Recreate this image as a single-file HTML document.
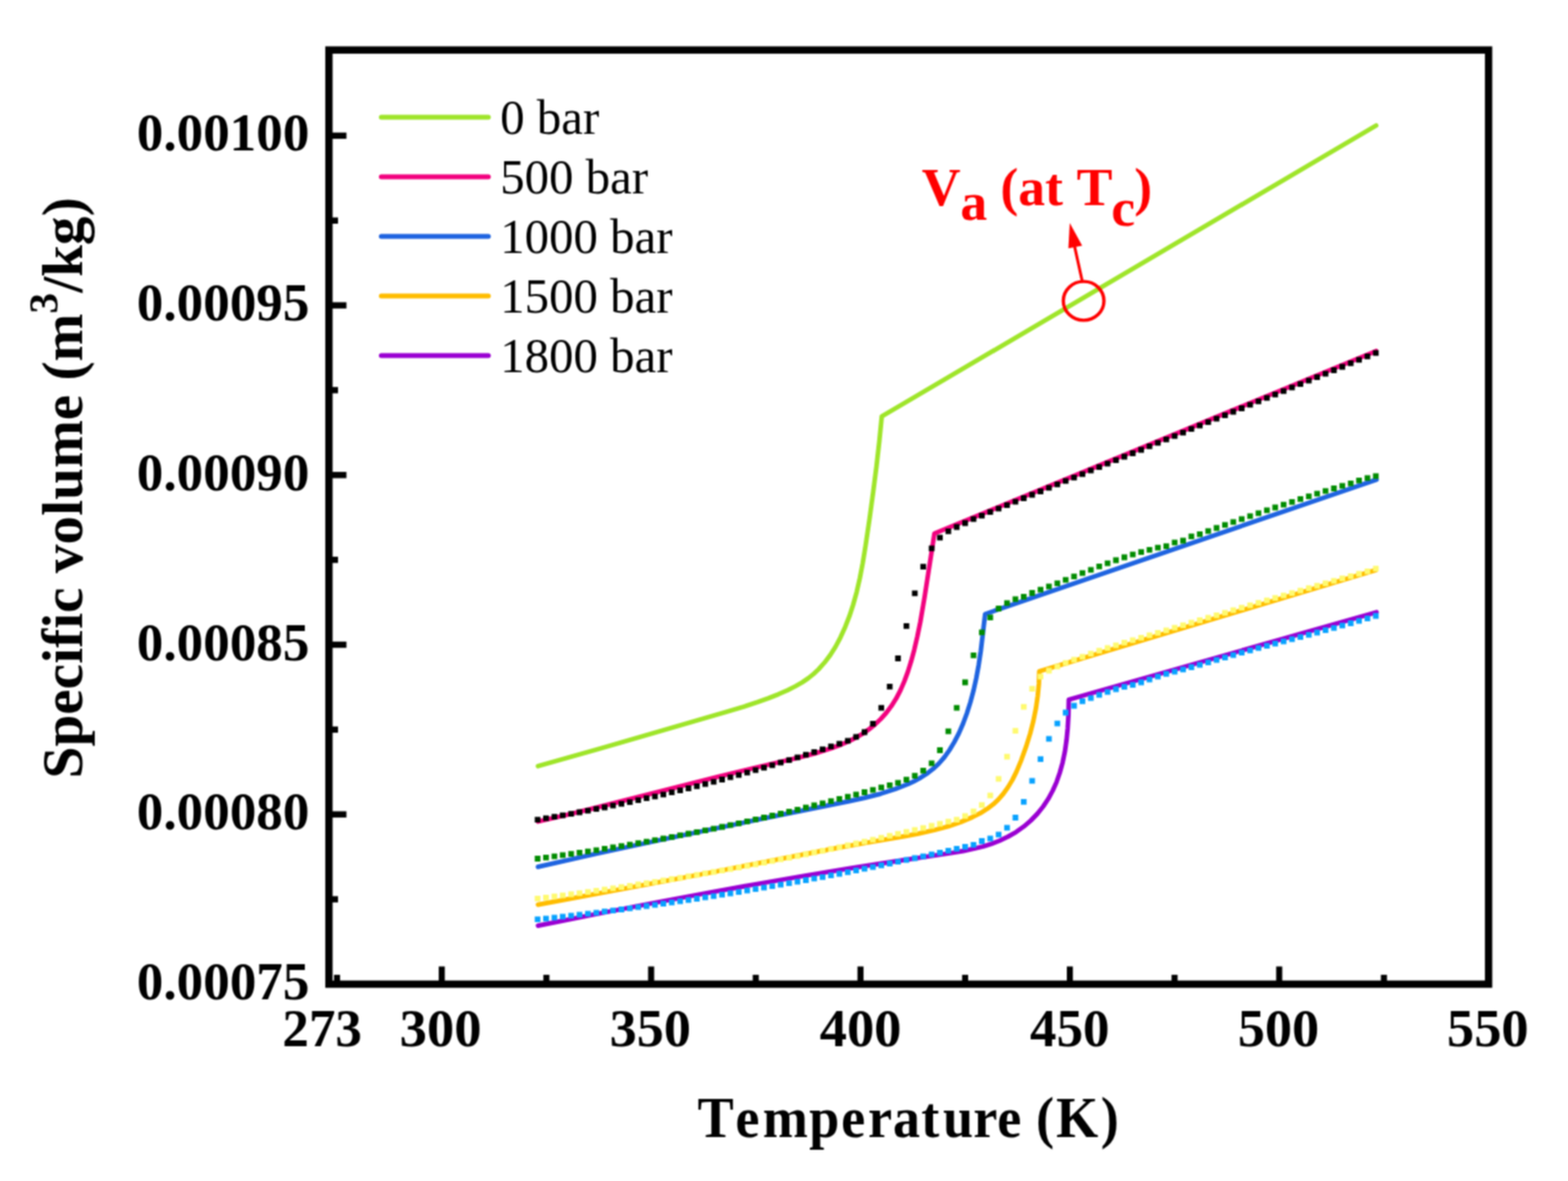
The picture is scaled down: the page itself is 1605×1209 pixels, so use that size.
<!DOCTYPE html>
<html><head><meta charset="utf-8"><title>Specific volume vs Temperature</title>
<style>html,body{margin:0;padding:0;background:#fff;}svg{display:block;}</style></head>
<body><svg width="1605" height="1209" viewBox="0 0 1605 1209">
<defs><filter id="soft" filterUnits="userSpaceOnUse" x="0" y="0" width="1605" height="1209" color-interpolation-filters="sRGB"><feConvolveMatrix order="3" kernelMatrix="1 2 1 2 4 2 1 2 1" divisor="16" edgeMode="duplicate"/></filter></defs>
<g filter="url(#soft)">
<rect width="1605" height="1209" fill="#fff"/>
<polyline points="550.7,784.3 610.9,767.3 743.5,728.8 761.2,723.5 775.4,718.8 786.6,714.8 796.8,710.7 806.1,706.6 814.2,702.5 821.2,698.5 827.4,694.3 832.7,690.0 837.9,685.1 844.0,678.3 849.9,670.5 855.3,662.0 860.4,652.3 865.2,641.7 869.5,630.7 873.3,619.0 876.9,606.1 880.1,592.0 883.1,576.4 886.0,558.6 890.0,531.5 893.8,503.6 897.2,477.1 900.1,451.4 902.6,426.3 1408.6,128.5" fill="none" stroke="#9fe52a" stroke-width="4.7" stroke-linejoin="round" stroke-linecap="round"/>
<polyline points="550.7,841.0 577.8,834.7 608.0,827.4 735.5,795.0 771.7,786.2 816.7,775.7 833.6,771.4 850.9,766.0 858.4,763.3 865.3,760.4 871.8,757.4 877.6,754.3 883.2,751.0 888.5,747.3 895.4,741.9 901.7,735.9 907.3,729.7 912.5,722.7 917.3,715.1 921.7,706.6 925.7,697.4 929.4,687.4 932.7,676.8 935.8,665.3 939.0,651.5 942.0,637.0 946.5,610.7 956.5,546.2 1408.6,359.3" fill="none" stroke="#f2027f" stroke-width="4.7" stroke-linejoin="round" stroke-linecap="round"/>
<polyline points="550.7,887.4 610.2,874.0 678.9,859.3 794.8,835.1 868.3,820.4 884.5,816.9 901.4,812.6 916.3,807.8 929.6,802.6 935.5,799.8 940.9,797.0 948.3,792.3 955.0,787.2 960.9,781.7 966.5,775.4 971.8,768.0 976.7,759.9 981.4,750.9 985.8,740.8 989.7,730.2 993.3,718.9 996.5,706.9 999.3,694.2 1001.7,681.2 1003.9,666.6 1008.4,628.6 1409.0,491.0" fill="none" stroke="#1f64e0" stroke-width="4.7" stroke-linejoin="round" stroke-linecap="round"/>
<polyline points="550.7,926.1 728.8,893.0 857.6,867.9 886.9,862.7 925.7,856.1 940.2,853.4 956.4,849.8 970.6,845.9 983.6,841.5 995.4,836.5 1003.5,832.4 1010.4,828.1 1016.6,823.4 1021.9,818.5 1027.0,812.6 1031.8,805.9 1036.3,798.4 1040.5,789.9 1045.3,778.3 1050.3,764.4 1054.5,750.9 1057.8,737.9 1060.4,725.0 1062.2,712.3 1063.4,699.9 1063.8,687.3 1408.6,583.5" fill="none" stroke="#ffbd00" stroke-width="4.7" stroke-linejoin="round" stroke-linecap="round"/>
<polyline points="550.7,947.6 610.3,935.7 667.0,924.7 721.8,914.5 774.8,905.0 823.9,896.5 871.9,888.6 920.4,881.1 973.6,873.2 986.2,871.1 997.0,868.8 1006.5,866.5 1015.1,863.7 1023.2,860.6 1032.0,856.4 1040.2,851.7 1047.9,846.2 1055.1,840.0 1061.9,833.0 1067.8,825.6 1073.0,817.8 1077.5,809.5 1081.5,800.6 1084.8,791.0 1087.7,780.6 1090.0,769.6 1091.7,757.7 1092.9,745.2 1093.7,731.5 1094.0,716.2 1409.0,626.7" fill="none" stroke="#9a00d2" stroke-width="4.7" stroke-linejoin="round" stroke-linecap="round"/>
<path d="M547.4 836.2h5.8v5.8h-5.8zM556.0 834.7h5.8v5.8h-5.8zM564.6 833.3h5.8v5.8h-5.8zM573.1 831.8h5.8v5.8h-5.8zM581.7 830.2h5.8v5.8h-5.8zM590.3 828.6h5.8v5.8h-5.8zM598.9 827.0h5.8v5.8h-5.8zM607.5 825.3h5.8v5.8h-5.8zM616.0 823.6h5.8v5.8h-5.8zM624.6 821.8h5.8v5.8h-5.8zM633.2 820.0h5.8v5.8h-5.8zM641.8 818.2h5.8v5.8h-5.8zM650.4 816.3h5.8v5.8h-5.8zM658.9 814.3h5.8v5.8h-5.8zM667.5 812.4h5.8v5.8h-5.8zM676.1 810.4h5.8v5.8h-5.8zM684.7 808.3h5.8v5.8h-5.8zM693.3 806.2h5.8v5.8h-5.8zM701.8 804.1h5.8v5.8h-5.8zM710.4 801.9h5.8v5.8h-5.8zM719.0 799.7h5.8v5.8h-5.8zM727.6 797.4h5.8v5.8h-5.8zM736.2 795.1h5.8v5.8h-5.8zM744.7 792.8h5.8v5.8h-5.8zM753.3 790.4h5.8v5.8h-5.8zM761.9 787.9h5.8v5.8h-5.8zM770.5 785.5h5.8v5.8h-5.8zM779.1 782.9h5.8v5.8h-5.8zM787.6 780.4h5.8v5.8h-5.8zM796.2 777.8h5.8v5.8h-5.8zM804.8 775.2h5.8v5.8h-5.8zM813.4 772.5h5.8v5.8h-5.8zM822.0 769.7h5.8v5.8h-5.8zM830.5 767.0h5.8v5.8h-5.8zM839.1 764.2h5.8v5.8h-5.8zM847.7 761.3h5.8v5.8h-5.8zM856.3 758.4h5.8v5.8h-5.8zM864.9 755.5h5.8v5.8h-5.8zM873.4 751.4h5.8v5.8h-5.8zM882.0 746.6h5.8v5.8h-5.8zM890.6 738.0h5.8v5.8h-5.8zM899.2 721.7h5.8v5.8h-5.8zM907.8 699.9h5.8v5.8h-5.8zM916.3 671.1h5.8v5.8h-5.8zM924.9 637.9h5.8v5.8h-5.8zM933.5 604.5h5.8v5.8h-5.8zM942.1 577.3h5.8v5.8h-5.8zM950.7 558.4h5.8v5.8h-5.8zM959.2 547.5h5.8v5.8h-5.8zM967.8 540.9h5.8v5.8h-5.8zM976.4 536.6h5.8v5.8h-5.8zM985.0 532.6h5.8v5.8h-5.8zM993.6 528.4h5.8v5.8h-5.8zM1002.1 524.9h5.8v5.8h-5.8zM1010.7 521.3h5.8v5.8h-5.8zM1019.3 517.8h5.8v5.8h-5.8zM1027.9 514.2h5.8v5.8h-5.8zM1036.5 510.7h5.8v5.8h-5.8zM1045.0 507.1h5.8v5.8h-5.8zM1053.6 503.6h5.8v5.8h-5.8zM1062.2 500.1h5.8v5.8h-5.8zM1070.8 496.5h5.8v5.8h-5.8zM1079.4 493.0h5.8v5.8h-5.8zM1087.9 489.4h5.8v5.8h-5.8zM1096.5 485.9h5.8v5.8h-5.8zM1105.1 482.4h5.8v5.8h-5.8zM1113.7 478.8h5.8v5.8h-5.8zM1122.3 475.3h5.8v5.8h-5.8zM1130.8 471.7h5.8v5.8h-5.8zM1139.4 468.2h5.8v5.8h-5.8zM1148.0 464.6h5.8v5.8h-5.8zM1156.6 461.1h5.8v5.8h-5.8zM1165.2 457.6h5.8v5.8h-5.8zM1173.7 454.0h5.8v5.8h-5.8zM1182.3 450.5h5.8v5.8h-5.8zM1190.9 446.9h5.8v5.8h-5.8zM1199.5 443.4h5.8v5.8h-5.8zM1208.1 439.9h5.8v5.8h-5.8zM1216.6 436.3h5.8v5.8h-5.8zM1225.2 432.8h5.8v5.8h-5.8zM1233.8 429.2h5.8v5.8h-5.8zM1242.4 425.7h5.8v5.8h-5.8zM1251.0 422.2h5.8v5.8h-5.8zM1259.5 418.6h5.8v5.8h-5.8zM1268.1 415.1h5.8v5.8h-5.8zM1276.7 411.5h5.8v5.8h-5.8zM1285.3 408.0h5.8v5.8h-5.8zM1293.9 404.4h5.8v5.8h-5.8zM1302.4 400.9h5.8v5.8h-5.8zM1311.0 397.4h5.8v5.8h-5.8zM1319.6 393.8h5.8v5.8h-5.8zM1328.2 390.3h5.8v5.8h-5.8zM1336.8 386.7h5.8v5.8h-5.8zM1345.3 383.2h5.8v5.8h-5.8zM1353.9 379.7h5.8v5.8h-5.8zM1362.5 376.1h5.8v5.8h-5.8zM1371.1 372.6h5.8v5.8h-5.8zM1379.7 369.0h5.8v5.8h-5.8zM1388.2 365.5h5.8v5.8h-5.8zM1396.8 361.9h5.8v5.8h-5.8zM1405.4 358.4h5.8v5.8h-5.8z" fill="#000000"/>
<path d="M547.4 876.1h5.8v5.8h-5.8zM556.0 874.9h5.8v5.8h-5.8zM564.6 873.8h5.8v5.8h-5.8zM573.1 872.5h5.8v5.8h-5.8zM581.7 871.3h5.8v5.8h-5.8zM590.3 870.0h5.8v5.8h-5.8zM598.9 868.7h5.8v5.8h-5.8zM607.5 867.4h5.8v5.8h-5.8zM616.0 866.0h5.8v5.8h-5.8zM624.6 864.6h5.8v5.8h-5.8zM633.2 863.2h5.8v5.8h-5.8zM641.8 861.7h5.8v5.8h-5.8zM650.4 860.2h5.8v5.8h-5.8zM658.9 858.7h5.8v5.8h-5.8zM667.5 857.2h5.8v5.8h-5.8zM676.1 855.6h5.8v5.8h-5.8zM684.7 854.0h5.8v5.8h-5.8zM693.3 852.3h5.8v5.8h-5.8zM701.8 850.6h5.8v5.8h-5.8zM710.4 848.9h5.8v5.8h-5.8zM719.0 847.2h5.8v5.8h-5.8zM727.6 845.4h5.8v5.8h-5.8zM736.2 843.6h5.8v5.8h-5.8zM744.7 841.7h5.8v5.8h-5.8zM753.3 839.9h5.8v5.8h-5.8zM761.9 838.0h5.8v5.8h-5.8zM770.5 836.0h5.8v5.8h-5.8zM779.1 834.1h5.8v5.8h-5.8zM787.6 832.1h5.8v5.8h-5.8zM796.2 830.1h5.8v5.8h-5.8zM804.8 828.0h5.8v5.8h-5.8zM813.4 825.9h5.8v5.8h-5.8zM822.0 823.8h5.8v5.8h-5.8zM830.5 821.6h5.8v5.8h-5.8zM839.1 819.5h5.8v5.8h-5.8zM847.7 817.2h5.8v5.8h-5.8zM856.3 815.0h5.8v5.8h-5.8zM864.9 812.7h5.8v5.8h-5.8zM873.4 810.4h5.8v5.8h-5.8zM882.0 808.1h5.8v5.8h-5.8zM890.6 805.7h5.8v5.8h-5.8zM899.2 803.3h5.8v5.8h-5.8zM907.8 800.9h5.8v5.8h-5.8zM916.3 798.4h5.8v5.8h-5.8zM924.9 795.2h5.8v5.8h-5.8zM933.5 791.2h5.8v5.8h-5.8zM942.1 786.0h5.8v5.8h-5.8zM950.7 778.5h5.8v5.8h-5.8zM959.2 765.1h5.8v5.8h-5.8zM967.8 745.7h5.8v5.8h-5.8zM976.4 721.7h5.8v5.8h-5.8zM985.0 695.6h5.8v5.8h-5.8zM993.6 667.9h5.8v5.8h-5.8zM1002.1 644.4h5.8v5.8h-5.8zM1010.7 629.3h5.8v5.8h-5.8zM1019.3 620.1h5.8v5.8h-5.8zM1027.9 614.5h5.8v5.8h-5.8zM1036.5 610.5h5.8v5.8h-5.8zM1045.0 607.9h5.8v5.8h-5.8zM1053.6 604.1h5.8v5.8h-5.8zM1062.2 600.8h5.8v5.8h-5.8zM1070.8 597.5h5.8v5.8h-5.8zM1079.4 594.2h5.8v5.8h-5.8zM1087.9 590.7h5.8v5.8h-5.8zM1096.5 587.3h5.8v5.8h-5.8zM1105.1 583.8h5.8v5.8h-5.8zM1113.7 580.4h5.8v5.8h-5.8zM1122.3 577.0h5.8v5.8h-5.8zM1130.8 573.8h5.8v5.8h-5.8zM1139.4 570.6h5.8v5.8h-5.8zM1148.0 567.6h5.8v5.8h-5.8zM1156.6 564.8h5.8v5.8h-5.8zM1165.2 562.2h5.8v5.8h-5.8zM1173.7 559.9h5.8v5.8h-5.8zM1182.3 557.8h5.8v5.8h-5.8zM1190.9 556.2h5.8v5.8h-5.8zM1199.5 552.5h5.8v5.8h-5.8zM1208.1 550.6h5.8v5.8h-5.8zM1216.6 546.3h5.8v5.8h-5.8zM1225.2 544.0h5.8v5.8h-5.8zM1233.8 540.7h5.8v5.8h-5.8zM1242.4 537.6h5.8v5.8h-5.8zM1251.0 534.5h5.8v5.8h-5.8zM1259.5 531.4h5.8v5.8h-5.8zM1268.1 528.4h5.8v5.8h-5.8zM1276.7 525.4h5.8v5.8h-5.8zM1285.3 522.4h5.8v5.8h-5.8zM1293.9 519.5h5.8v5.8h-5.8zM1302.4 516.6h5.8v5.8h-5.8zM1311.0 513.7h5.8v5.8h-5.8zM1319.6 510.9h5.8v5.8h-5.8zM1328.2 508.0h5.8v5.8h-5.8zM1336.8 505.3h5.8v5.8h-5.8zM1345.3 502.5h5.8v5.8h-5.8zM1353.9 499.8h5.8v5.8h-5.8zM1362.5 497.1h5.8v5.8h-5.8zM1371.1 494.5h5.8v5.8h-5.8zM1379.7 492.0h5.8v5.8h-5.8zM1388.2 488.9h5.8v5.8h-5.8zM1396.8 486.4h5.8v5.8h-5.8zM1405.4 484.4h5.8v5.8h-5.8z" fill="#008c00"/>
<path d="M547.4 917.0h5.8v5.8h-5.8zM556.0 915.9h5.8v5.8h-5.8zM564.6 914.8h5.8v5.8h-5.8zM573.1 913.7h5.8v5.8h-5.8zM581.7 912.6h5.8v5.8h-5.8zM590.3 911.4h5.8v5.8h-5.8zM598.9 910.2h5.8v5.8h-5.8zM607.5 909.0h5.8v5.8h-5.8zM616.0 907.8h5.8v5.8h-5.8zM624.6 906.5h5.8v5.8h-5.8zM633.2 905.2h5.8v5.8h-5.8zM641.8 903.9h5.8v5.8h-5.8zM650.4 902.6h5.8v5.8h-5.8zM658.9 901.3h5.8v5.8h-5.8zM667.5 899.9h5.8v5.8h-5.8zM676.1 898.5h5.8v5.8h-5.8zM684.7 897.1h5.8v5.8h-5.8zM693.3 895.7h5.8v5.8h-5.8zM701.8 894.3h5.8v5.8h-5.8zM710.4 892.8h5.8v5.8h-5.8zM719.0 891.3h5.8v5.8h-5.8zM727.6 889.8h5.8v5.8h-5.8zM736.2 888.2h5.8v5.8h-5.8zM744.7 886.7h5.8v5.8h-5.8zM753.3 885.1h5.8v5.8h-5.8zM761.9 883.5h5.8v5.8h-5.8zM770.5 881.9h5.8v5.8h-5.8zM779.1 880.2h5.8v5.8h-5.8zM787.6 878.5h5.8v5.8h-5.8zM796.2 876.8h5.8v5.8h-5.8zM804.8 875.1h5.8v5.8h-5.8zM813.4 873.4h5.8v5.8h-5.8zM822.0 871.6h5.8v5.8h-5.8zM830.5 869.8h5.8v5.8h-5.8zM839.1 868.0h5.8v5.8h-5.8zM847.7 866.2h5.8v5.8h-5.8zM856.3 864.4h5.8v5.8h-5.8zM864.9 862.5h5.8v5.8h-5.8zM873.4 860.6h5.8v5.8h-5.8zM882.0 858.7h5.8v5.8h-5.8zM890.6 856.7h5.8v5.8h-5.8zM899.2 854.8h5.8v5.8h-5.8zM907.8 852.8h5.8v5.8h-5.8zM916.3 850.8h5.8v5.8h-5.8zM924.9 848.8h5.8v5.8h-5.8zM933.5 846.7h5.8v5.8h-5.8zM942.1 844.7h5.8v5.8h-5.8zM950.7 842.6h5.8v5.8h-5.8zM959.2 840.5h5.8v5.8h-5.8zM967.8 838.3h5.8v5.8h-5.8zM976.4 836.2h5.8v5.8h-5.8zM985.0 832.5h5.8v5.8h-5.8zM993.6 827.7h5.8v5.8h-5.8zM1002.1 821.3h5.8v5.8h-5.8zM1010.7 811.4h5.8v5.8h-5.8zM1019.3 794.4h5.8v5.8h-5.8zM1027.9 771.7h5.8v5.8h-5.8zM1036.5 745.3h5.8v5.8h-5.8zM1045.0 720.8h5.8v5.8h-5.8zM1053.6 702.3h5.8v5.8h-5.8zM1062.2 689.8h5.8v5.8h-5.8zM1070.8 683.6h5.8v5.8h-5.8zM1079.4 679.4h5.8v5.8h-5.8zM1087.9 675.8h5.8v5.8h-5.8zM1096.5 672.5h5.8v5.8h-5.8zM1105.1 669.5h5.8v5.8h-5.8zM1113.7 666.2h5.8v5.8h-5.8zM1122.3 663.2h5.8v5.8h-5.8zM1130.8 660.4h5.8v5.8h-5.8zM1139.4 657.7h5.8v5.8h-5.8zM1148.0 655.0h5.8v5.8h-5.8zM1156.6 652.4h5.8v5.8h-5.8zM1165.2 649.9h5.8v5.8h-5.8zM1173.7 647.4h5.8v5.8h-5.8zM1182.3 644.9h5.8v5.8h-5.8zM1190.9 642.4h5.8v5.8h-5.8zM1199.5 639.8h5.8v5.8h-5.8zM1208.1 637.2h5.8v5.8h-5.8zM1216.6 634.6h5.8v5.8h-5.8zM1225.2 632.1h5.8v5.8h-5.8zM1233.8 629.5h5.8v5.8h-5.8zM1242.4 626.9h5.8v5.8h-5.8zM1251.0 624.4h5.8v5.8h-5.8zM1259.5 621.8h5.8v5.8h-5.8zM1268.1 619.3h5.8v5.8h-5.8zM1276.7 616.8h5.8v5.8h-5.8zM1285.3 614.2h5.8v5.8h-5.8zM1293.9 611.7h5.8v5.8h-5.8zM1302.4 609.2h5.8v5.8h-5.8zM1311.0 606.7h5.8v5.8h-5.8zM1319.6 604.2h5.8v5.8h-5.8zM1328.2 601.7h5.8v5.8h-5.8zM1336.8 599.2h5.8v5.8h-5.8zM1345.3 596.7h5.8v5.8h-5.8zM1353.9 594.2h5.8v5.8h-5.8zM1362.5 591.8h5.8v5.8h-5.8zM1371.1 589.3h5.8v5.8h-5.8zM1379.7 586.9h5.8v5.8h-5.8zM1388.2 584.4h5.8v5.8h-5.8zM1396.8 582.0h5.8v5.8h-5.8zM1405.4 579.2h5.8v5.8h-5.8z" fill="#fffa70"/>
<path d="M547.4 938.3h5.8v5.8h-5.8zM556.0 937.4h5.8v5.8h-5.8zM564.6 936.4h5.8v5.8h-5.8zM573.1 935.5h5.8v5.8h-5.8zM581.7 934.5h5.8v5.8h-5.8zM590.3 933.5h5.8v5.8h-5.8zM598.9 932.4h5.8v5.8h-5.8zM607.5 931.4h5.8v5.8h-5.8zM616.0 930.3h5.8v5.8h-5.8zM624.6 929.2h5.8v5.8h-5.8zM633.2 928.1h5.8v5.8h-5.8zM641.8 926.9h5.8v5.8h-5.8zM650.4 925.8h5.8v5.8h-5.8zM658.9 924.6h5.8v5.8h-5.8zM667.5 923.4h5.8v5.8h-5.8zM676.1 922.2h5.8v5.8h-5.8zM684.7 920.9h5.8v5.8h-5.8zM693.3 919.7h5.8v5.8h-5.8zM701.8 918.4h5.8v5.8h-5.8zM710.4 917.1h5.8v5.8h-5.8zM719.0 915.7h5.8v5.8h-5.8zM727.6 914.4h5.8v5.8h-5.8zM736.2 913.0h5.8v5.8h-5.8zM744.7 911.6h5.8v5.8h-5.8zM753.3 910.2h5.8v5.8h-5.8zM761.9 908.8h5.8v5.8h-5.8zM770.5 907.3h5.8v5.8h-5.8zM779.1 905.8h5.8v5.8h-5.8zM787.6 904.3h5.8v5.8h-5.8zM796.2 902.8h5.8v5.8h-5.8zM804.8 901.3h5.8v5.8h-5.8zM813.4 899.7h5.8v5.8h-5.8zM822.0 898.1h5.8v5.8h-5.8zM830.5 896.5h5.8v5.8h-5.8zM839.1 894.9h5.8v5.8h-5.8zM847.7 893.2h5.8v5.8h-5.8zM856.3 891.6h5.8v5.8h-5.8zM864.9 889.9h5.8v5.8h-5.8zM873.4 888.2h5.8v5.8h-5.8zM882.0 886.4h5.8v5.8h-5.8zM890.6 884.7h5.8v5.8h-5.8zM899.2 882.9h5.8v5.8h-5.8zM907.8 881.1h5.8v5.8h-5.8zM916.3 879.3h5.8v5.8h-5.8zM924.9 877.4h5.8v5.8h-5.8zM933.5 875.6h5.8v5.8h-5.8zM942.1 873.7h5.8v5.8h-5.8zM950.7 871.8h5.8v5.8h-5.8zM959.2 869.9h5.8v5.8h-5.8zM967.8 867.9h5.8v5.8h-5.8zM976.4 866.0h5.8v5.8h-5.8zM985.0 864.0h5.8v5.8h-5.8zM993.6 862.0h5.8v5.8h-5.8zM1002.1 858.1h5.8v5.8h-5.8zM1010.7 855.4h5.8v5.8h-5.8zM1019.3 851.5h5.8v5.8h-5.8zM1027.9 844.5h5.8v5.8h-5.8zM1036.5 834.1h5.8v5.8h-5.8zM1045.0 818.0h5.8v5.8h-5.8zM1053.6 796.5h5.8v5.8h-5.8zM1062.2 774.2h5.8v5.8h-5.8zM1070.8 753.5h5.8v5.8h-5.8zM1079.4 737.8h5.8v5.8h-5.8zM1087.9 726.6h5.8v5.8h-5.8zM1096.5 719.6h5.8v5.8h-5.8zM1105.1 715.0h5.8v5.8h-5.8zM1113.7 711.7h5.8v5.8h-5.8zM1122.3 708.5h5.8v5.8h-5.8zM1130.8 705.4h5.8v5.8h-5.8zM1139.4 702.6h5.8v5.8h-5.8zM1148.0 700.2h5.8v5.8h-5.8zM1156.6 698.2h5.8v5.8h-5.8zM1165.2 695.6h5.8v5.8h-5.8zM1173.7 692.7h5.8v5.8h-5.8zM1182.3 689.7h5.8v5.8h-5.8zM1190.9 687.0h5.8v5.8h-5.8zM1199.5 684.8h5.8v5.8h-5.8zM1208.1 682.5h5.8v5.8h-5.8zM1216.6 680.1h5.8v5.8h-5.8zM1225.2 677.7h5.8v5.8h-5.8zM1233.8 675.2h5.8v5.8h-5.8zM1242.4 672.7h5.8v5.8h-5.8zM1251.0 670.3h5.8v5.8h-5.8zM1259.5 667.8h5.8v5.8h-5.8zM1268.1 665.3h5.8v5.8h-5.8zM1276.7 662.9h5.8v5.8h-5.8zM1285.3 660.5h5.8v5.8h-5.8zM1293.9 658.2h5.8v5.8h-5.8zM1302.4 656.0h5.8v5.8h-5.8zM1311.0 653.7h5.8v5.8h-5.8zM1319.6 651.5h5.8v5.8h-5.8zM1328.2 649.2h5.8v5.8h-5.8zM1336.8 646.9h5.8v5.8h-5.8zM1345.3 644.6h5.8v5.8h-5.8zM1353.9 642.2h5.8v5.8h-5.8zM1362.5 639.9h5.8v5.8h-5.8zM1371.1 637.5h5.8v5.8h-5.8zM1379.7 635.1h5.8v5.8h-5.8zM1388.2 632.7h5.8v5.8h-5.8zM1396.8 630.2h5.8v5.8h-5.8zM1405.4 627.6h5.8v5.8h-5.8z" fill="#08a2ff"/>
<rect x="336.7" y="51.2" width="1187.0" height="956.3" fill="none" stroke="#000" stroke-width="7.5"/>
<rect x="449.1" y="989.4" width="6.2" height="15.4" fill="#000"/>
<rect x="663.4" y="989.4" width="6.2" height="15.4" fill="#000"/>
<rect x="877.7" y="989.4" width="6.2" height="15.4" fill="#000"/>
<rect x="1092.0" y="989.4" width="6.2" height="15.4" fill="#000"/>
<rect x="1306.3" y="989.4" width="6.2" height="15.4" fill="#000"/>
<rect x="341.9" y="997.9" width="6.2" height="6.9" fill="#000"/>
<rect x="556.2" y="997.9" width="6.2" height="6.9" fill="#000"/>
<rect x="770.5" y="997.9" width="6.2" height="6.9" fill="#000"/>
<rect x="984.8" y="997.9" width="6.2" height="6.9" fill="#000"/>
<rect x="1199.2" y="997.9" width="6.2" height="6.9" fill="#000"/>
<rect x="1413.5" y="997.9" width="6.2" height="6.9" fill="#000"/>
<rect x="339.4" y="135.7" width="15.2" height="6.4" fill="#000"/>
<rect x="339.4" y="309.4" width="15.2" height="6.4" fill="#000"/>
<rect x="339.4" y="483.1" width="15.2" height="6.4" fill="#000"/>
<rect x="339.4" y="656.8" width="15.2" height="6.4" fill="#000"/>
<rect x="339.4" y="830.5" width="15.2" height="6.4" fill="#000"/>
<rect x="339.4" y="917.4" width="6.6" height="6.4" fill="#000"/>
<rect x="339.4" y="743.7" width="6.6" height="6.4" fill="#000"/>
<rect x="339.4" y="569.9" width="6.6" height="6.4" fill="#000"/>
<rect x="339.4" y="396.2" width="6.6" height="6.4" fill="#000"/>
<rect x="339.4" y="222.6" width="6.6" height="6.4" fill="#000"/>
<g transform="translate(139.99,154.22) scale(0.9541,0.9769)"><text font-family="Liberation Serif, serif" font-weight="bold" font-size="57">0.00100</text></g>
<g transform="translate(139.99,327.94) scale(0.9541,0.9641)"><text font-family="Liberation Serif, serif" font-weight="bold" font-size="57">0.00095</text></g>
<g transform="translate(139.99,501.74) scale(0.9541,0.9590)"><text font-family="Liberation Serif, serif" font-weight="bold" font-size="57">0.00090</text></g>
<g transform="translate(139.99,675.85) scale(0.9541,0.9538)"><text font-family="Liberation Serif, serif" font-weight="bold" font-size="57">0.00085</text></g>
<g transform="translate(139.99,849.23) scale(0.9541,0.9667)"><text font-family="Liberation Serif, serif" font-weight="bold" font-size="57">0.00080</text></g>
<g transform="translate(139.99,1022.94) scale(0.9541,0.9641)"><text font-family="Liberation Serif, serif" font-weight="bold" font-size="57">0.00075</text></g>
<g transform="translate(289.10,1070.72) scale(0.9524,0.9795)"><text font-family="Liberation Serif, serif" font-weight="bold" font-size="57">273</text></g>
<g transform="translate(409.04,1070.72) scale(0.9815,0.9795)"><text font-family="Liberation Serif, serif" font-weight="bold" font-size="57">300</text></g>
<g transform="translate(624.05,1070.72) scale(0.9741,0.9795)"><text font-family="Liberation Serif, serif" font-weight="bold" font-size="57">350</text></g>
<g transform="translate(838.92,1070.72) scale(0.9817,0.9795)"><text font-family="Liberation Serif, serif" font-weight="bold" font-size="57">400</text></g>
<g transform="translate(1054.35,1070.72) scale(0.9524,0.9795)"><text font-family="Liberation Serif, serif" font-weight="bold" font-size="57">450</text></g>
<g transform="translate(1266.95,1070.72) scale(0.9753,0.9795)"><text font-family="Liberation Serif, serif" font-weight="bold" font-size="57">500</text></g>
<g transform="translate(1480.94,1070.72) scale(0.9815,0.9795)"><text font-family="Liberation Serif, serif" font-weight="bold" font-size="57">550</text></g>
<text transform="scale(0.95,1)" x="751.6 792.5 821.9 871.9 906.3 935.2 962.1 992.6 1016.1 1048.8 1074.5 1104.5 1116.4 1137.8 1186.0" y="1163.8" font-family="Liberation Serif, serif" font-weight="bold" font-size="58.5">Temperature (K)</text>
<line x1="390.3" y1="119.9" x2="499.9" y2="119.9" stroke="#9fe52a" stroke-width="5.0" stroke-linecap="round"/>
<text x="512" y="137.3" font-family="Liberation Serif, serif" font-size="50">0 bar</text>
<line x1="390.3" y1="180.9" x2="499.9" y2="180.9" stroke="#f2027f" stroke-width="5.0" stroke-linecap="round"/>
<text x="512" y="198.3" font-family="Liberation Serif, serif" font-size="50">500 bar</text>
<line x1="390.3" y1="241.9" x2="499.9" y2="241.9" stroke="#1f64e0" stroke-width="5.0" stroke-linecap="round"/>
<text x="512" y="259.3" font-family="Liberation Serif, serif" font-size="50">1000 bar</text>
<line x1="390.3" y1="302.9" x2="499.9" y2="302.9" stroke="#ffbd00" stroke-width="5.0" stroke-linecap="round"/>
<text x="512" y="320.3" font-family="Liberation Serif, serif" font-size="50">1500 bar</text>
<line x1="390.3" y1="363.9" x2="499.9" y2="363.9" stroke="#9a00d2" stroke-width="5.0" stroke-linecap="round"/>
<text x="512" y="381.3" font-family="Liberation Serif, serif" font-size="50">1800 bar</text>
<text transform="translate(84,797) rotate(-90) scale(0.9866,0.985)" font-family="Liberation Serif, serif" font-weight="bold" font-size="59.5">Specific volume (m<tspan font-size="43" dy="-25">3</tspan><tspan dy="25">/kg)</tspan></text>
<text font-family="Liberation Serif, serif" font-weight="bold" font-size="55" fill="#ff0000"><tspan x="943.5" y="210">V</tspan><tspan x="983" y="225">a</tspan><tspan x="1010.25" y="210"> (at</tspan><tspan x="1089.35" y="210"> T</tspan><tspan x="1137.5" y="231">c</tspan><tspan x="1161" y="210">)</tspan></text><ellipse cx="1109.2" cy="308" rx="20.8" ry="19.9" fill="none" stroke="#ff0000" stroke-width="3.4"/><line x1="1107.6" y1="287" x2="1099" y2="248" stroke="#ff0000" stroke-width="3"/><polygon points="1095,228.3 1093.6,254.3 1107.7,251.4" fill="#ff0000"/>
</g>
</svg></body></html>
